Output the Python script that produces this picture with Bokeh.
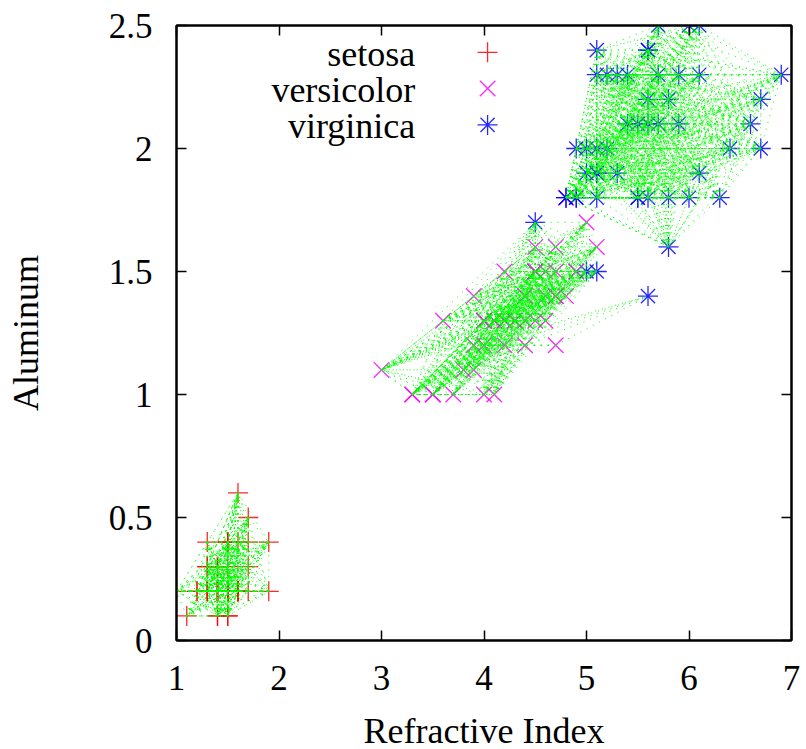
import itertools
from bokeh.plotting import figure
from bokeh.models import LinearAxis, FixedTicker, Range1d, Label
from bokeh.embed import file_html
from bokeh.resources import INLINE

# Iris-style data: x = "Refractive Index", y = "Aluminum"
setosa_x = [1.4, 1.4, 1.3, 1.5, 1.4, 1.7, 1.4, 1.5, 1.4, 1.5,
            1.5, 1.6, 1.4, 1.1, 1.2, 1.5, 1.3, 1.4, 1.7, 1.5,
            1.7, 1.5, 1.0, 1.7, 1.9, 1.6, 1.6, 1.5, 1.4, 1.6,
            1.6, 1.5, 1.5, 1.4, 1.5, 1.2, 1.3, 1.4, 1.3, 1.5,
            1.3, 1.3, 1.3, 1.6, 1.9, 1.4, 1.6, 1.4, 1.5, 1.4]
setosa_y = [0.2, 0.2, 0.2, 0.2, 0.2, 0.4, 0.3, 0.2, 0.2, 0.1,
            0.2, 0.2, 0.1, 0.1, 0.2, 0.4, 0.4, 0.3, 0.3, 0.3,
            0.2, 0.4, 0.2, 0.5, 0.2, 0.2, 0.4, 0.2, 0.2, 0.2,
            0.2, 0.4, 0.1, 0.2, 0.2, 0.2, 0.2, 0.1, 0.2, 0.2,
            0.3, 0.3, 0.2, 0.6, 0.4, 0.3, 0.2, 0.2, 0.2, 0.2]
versicolor_x = [4.7, 4.5, 4.9, 4.0, 4.6, 4.5, 4.7, 3.3, 4.6, 3.9,
                3.5, 4.2, 4.0, 4.7, 3.6, 4.4, 4.5, 4.1, 4.5, 3.9,
                4.8, 4.0, 4.9, 4.7, 4.3, 4.4, 4.8, 5.0, 4.5, 3.5,
                3.8, 3.7, 3.9, 5.1, 4.5, 4.5, 4.7, 4.4, 4.1, 4.0,
                4.4, 4.6, 4.0, 3.3, 4.2, 4.2, 4.2, 4.3, 3.0, 4.1]
versicolor_y = [1.4, 1.5, 1.5, 1.3, 1.5, 1.3, 1.6, 1.0, 1.3, 1.4,
                1.0, 1.5, 1.0, 1.4, 1.3, 1.4, 1.5, 1.0, 1.5, 1.1,
                1.8, 1.3, 1.5, 1.2, 1.3, 1.4, 1.4, 1.7, 1.5, 1.0,
                1.1, 1.0, 1.2, 1.6, 1.5, 1.6, 1.5, 1.3, 1.3, 1.3,
                1.2, 1.4, 1.2, 1.0, 1.3, 1.2, 1.3, 1.3, 1.1, 1.3]
virginica_x = [6.0, 5.1, 5.9, 5.6, 5.8, 6.6, 4.5, 6.3, 5.8, 6.1,
               5.1, 5.3, 5.5, 5.0, 5.1, 5.3, 5.5, 6.7, 6.9, 5.0,
               5.7, 4.9, 6.7, 4.9, 5.7, 6.0, 4.8, 4.9, 5.6, 5.8,
               6.1, 6.4, 5.6, 5.1, 5.6, 6.1, 5.6, 5.5, 4.8, 5.4,
               5.6, 5.1, 5.1, 5.9, 5.7, 5.2, 5.0, 5.2, 5.4, 5.1]
virginica_y = [2.5, 1.9, 2.1, 1.8, 2.2, 2.1, 1.7, 1.8, 1.8, 2.5,
               2.0, 1.9, 2.1, 2.0, 2.4, 2.3, 1.8, 2.2, 2.3, 1.5,
               2.3, 2.0, 2.0, 1.8, 2.1, 1.8, 1.8, 1.8, 2.1, 1.6,
               1.9, 2.0, 2.2, 1.5, 1.4, 2.3, 2.4, 1.8, 1.8, 2.1,
               2.4, 2.3, 1.9, 2.3, 2.5, 2.3, 1.9, 2.0, 2.3, 1.8]

# cluster membership (green dotted links join every pair within a cluster)
setosa_cluster = [1, 1, 1, 1, 1, 1, 1, 1, 1, 1,
                  1, 1, 1, 1, 1, 1, 1, 1, 1, 1,
                  1, 1, 1, 1, 1, 1, 1, 1, 1, 1,
                  1, 1, 1, 1, 1, 1, 1, 1, 1, 1,
                  1, 1, 1, 1, 1, 1, 1, 1, 1, 1]
versicolor_cluster = [2, 2, 2, 2, 2, 2, 2, 2, 2, 2,
                      2, 2, 2, 2, 2, 2, 2, 2, 2, 2,
                      3, 2, 2, 4, 2, 2, 2, 2, 2, 2,
                      2, 2, 4, 2, 2, 2, 2, 2, 2, 2,
                      4, 2, 4, 2, 2, 4, 2, 2, 2, 2]
virginica_cluster = [3, 3, 3, 3, 3, 3, 2, 3, 3, 3,
                     3, 3, 3, 3, 3, 3, 3, 3, 3, 2,
                     3, 3, 3, 3, 3, 3, 3, 3, 3, 3,
                     3, 3, 3, 2, 4, 3, 3, 3, 3, 3,
                     3, 3, 3, 3, 3, 3, 3, 3, 3, 3]

species = ["setosa", "versicolor", "virginica"]
x_ticks = [1, 2, 3, 4, 5, 6, 7]
y_ticks = [0, 0.5, 1, 1.5, 2, 2.5]
y_tick_labels = ["0", "0.5", "1", "1.5", "2", "2.5"]

FONT = "Liberation Serif"

p = figure(frame_width=615, frame_height=615, output_backend="svg", toolbar_location=None,
           x_range=Range1d(1, 7), y_range=Range1d(0, 2.5),
           min_border_left=176, min_border_right=15, min_border_top=25,
           min_border_bottom=109)
p.grid.visible = False
p.outline_line_color = "black"
p.outline_line_width = 2
p.background_fill_color = "white"
p.border_fill_color = "white"

p.xaxis.axis_label = "Refractive Index"
p.yaxis.axis_label = "Aluminum"
p.xaxis.ticker = FixedTicker(ticks=x_ticks)
p.yaxis.ticker = FixedTicker(ticks=y_ticks)
p.yaxis.major_label_overrides = {float(t): l for t, l in zip(y_ticks, y_tick_labels)}
for ax in (p.xaxis[0], p.yaxis[0]):
    ax.axis_label_text_font = FONT
    ax.axis_label_text_font_size = "36px"
    ax.axis_label_text_font_style = "normal"
    ax.axis_label_text_color = "black"
    ax.major_label_text_font = FONT
    ax.major_label_text_font_size = "35px"
    ax.major_label_text_color = "black"
    ax.major_tick_in = 10
    ax.major_tick_out = 0
    ax.major_tick_line_width = 1.5
    ax.minor_tick_line_color = None
    ax.axis_line_width = 2
p.xaxis.major_label_standoff = 25
p.xaxis.axis_label_standoff = 18
p.yaxis.major_label_standoff = 24
p.yaxis.axis_label_standoff = 60

for loc, tk in (("above", x_ticks), ("right", y_ticks)):
    ax = LinearAxis(ticker=FixedTicker(ticks=tk))
    ax.major_label_text_font_size = "0px"
    ax.major_label_text_color = None
    ax.major_tick_in = 10
    ax.major_tick_out = 0
    ax.major_tick_line_width = 1.5
    ax.minor_tick_line_color = None
    ax.axis_line_width = 2
    ax.major_label_standoff = 0
    p.add_layout(ax, loc)

data = [(setosa_x, setosa_y), (versicolor_x, versicolor_y), (virginica_x, virginica_y)]
clusters = [setosa_cluster, versicolor_cluster, virginica_cluster]
markers = ["cross", "x", "asterisk"]
colors = ["#ff0000", "#ff00ff", "#0000ff"]
sizes = [20, 22, 20]

# markers
for (xs, ys), m, c, s in zip(data, markers, colors, sizes):
    p.scatter(xs, ys, marker=m, size=s, line_color=c, line_width=1.3, line_alpha=0.85)

# green dotted lines between all pairs within a cluster
all_x = [v for xs, _ in data for v in xs]
all_y = [v for _, ys in data for v in ys]
all_c = [v for cl in clusters for v in cl]
x0, y0, x1, y1 = [], [], [], []
for i, j in itertools.combinations(range(len(all_x)), 2):
    if all_c[i] == all_c[j]:
        x0.append(all_x[i]); y0.append(all_y[i]); x1.append(all_x[j]); y1.append(all_y[j])
p.segment(x0, y0, x1, y1, line_color="#00ff00", line_width=1, line_dash="1 6")

# legend (gnuplot style: right-aligned text, sample to the right)
leg_text_x = 3.33
leg_mark_x = 4.035
leg_rows = [2.386, 2.239, 2.091]
for name, m, c, s, yy in zip(species, markers, colors, sizes, leg_rows):
    p.add_layout(Label(x=leg_text_x, y=yy, text=name, text_align="right",
                       text_baseline="middle", text_font=FONT,
                       text_font_size="36px", text_color="black"))
    p.scatter([leg_mark_x], [yy + 0.005], marker=m, size=s, line_color=c,
              line_width=1.3, line_alpha=0.85)

open("out.html", "w").write(file_html(p, INLINE))
